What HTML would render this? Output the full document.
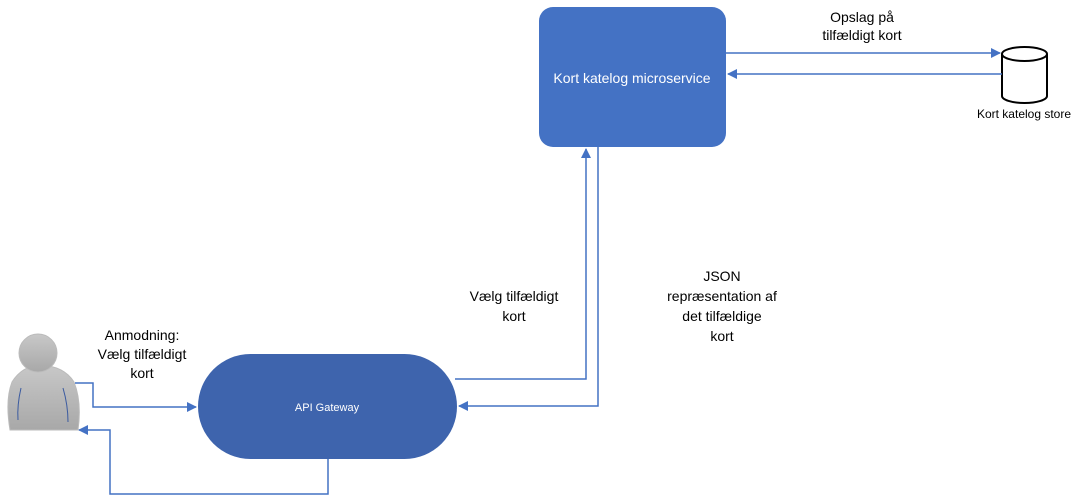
<!DOCTYPE html>
<html><head><meta charset="utf-8"><style>
html,body{margin:0;padding:0;background:#fff;}
svg{display:block;}
text{font-family:"Liberation Sans",sans-serif;}
</style></head><body>
<svg width="1086" height="496" viewBox="0 0 1086 496" xmlns="http://www.w3.org/2000/svg">
<defs>
<marker id="a" markerWidth="10" markerHeight="10" refX="9" refY="5" orient="auto" markerUnits="userSpaceOnUse">
<path d="M0,0 L10,5 L0,10 z" fill="#4472c4"/></marker>
<linearGradient id="g" x1="0" y1="0" x2="0" y2="1"><stop offset="0" stop-color="#c8c8c8"/><stop offset="1" stop-color="#a8a8a8"/></linearGradient>
</defs>
<rect x="539" y="7" width="187" height="140" rx="14" fill="#4472c4"/>
<text x="632" y="83" fill="#fff" font-size="14" text-anchor="middle">Kort katelog microservice</text>
<path d="M1002,54 L1002,96 A22.5,7 0 0 0 1047,96 L1047,54" fill="#fff" stroke="#000" stroke-width="2"/>
<ellipse cx="1024.5" cy="54" rx="22.5" ry="7" fill="#fff" stroke="#000" stroke-width="2"/>
<text x="1024" y="118" font-size="12" text-anchor="middle">Kort katelog store</text>
<line x1="726" y1="53" x2="1000" y2="53" stroke="#4472c4" stroke-width="1.5" marker-end="url(#a)"/>
<line x1="1002" y1="74" x2="728" y2="74" stroke="#4472c4" stroke-width="1.5" marker-end="url(#a)"/>
<text x="862" y="22" font-size="14" text-anchor="middle">Opslag på</text>
<text x="862" y="40" font-size="14" text-anchor="middle">tilfældigt kort</text>
<rect x="198" y="354" width="259" height="105" rx="52.5" fill="#3e64ad"/>
<text x="327" y="411" fill="#fff" font-size="11" text-anchor="middle">API Gateway</text>
<polyline points="455,379 586,379 586,149" fill="none" stroke="#4472c4" stroke-width="1.5" marker-end="url(#a)"/>
<polyline points="598,147 598,406 459,406" fill="none" stroke="#4472c4" stroke-width="1.5" marker-end="url(#a)"/>
<text x="514" y="301" font-size="14" text-anchor="middle">Vælg tilfældigt</text>
<text x="514" y="321" font-size="14" text-anchor="middle">kort</text>
<text x="722" y="281" font-size="14" text-anchor="middle">JSON</text>
<text x="722" y="301" font-size="14" text-anchor="middle">repræsentation af</text>
<text x="722" y="321" font-size="14" text-anchor="middle">det tilfældige</text>
<text x="722" y="341" font-size="14" text-anchor="middle">kort</text>
<path d="M10,430 Q5,400 12,382 Q22,366 40,365 Q64,366 74,382 Q82,402 78,430 Z" fill="url(#g)" stroke="#bbb"/>
<circle cx="38" cy="353" r="19" fill="url(#g)" stroke="#bbb"/>
<path d="M21,388 Q17,405 18,420" fill="none" stroke="#3a5aa0" stroke-width="1"/>
<path d="M63,388 Q68,405 68,422" fill="none" stroke="#3a5aa0" stroke-width="1"/>
<text x="142" y="340" font-size="14" text-anchor="middle">Anmodning:</text>
<text x="142" y="359" font-size="14" text-anchor="middle">Vælg tilfældigt</text>
<text x="142" y="378" font-size="14" text-anchor="middle">kort</text>
<polyline points="75,383 93,383 93,407 196,407" fill="none" stroke="#4472c4" stroke-width="1.5" marker-end="url(#a)"/>
<polyline points="328,459 328,494 110,494 110,430 79,430" fill="none" stroke="#4472c4" stroke-width="1.5" marker-end="url(#a)"/>
</svg>
</body></html>
